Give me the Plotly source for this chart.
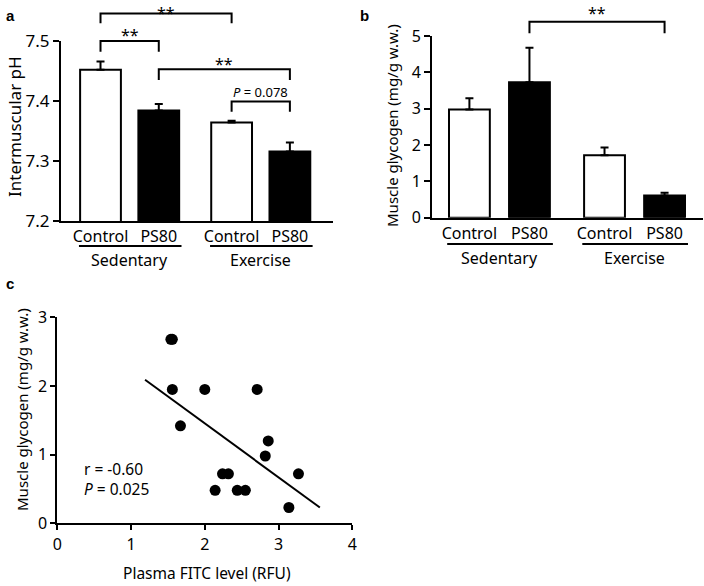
import plotly.graph_objects as go

W, H = 704, 586
FONT = "Noto Sans"

# ---------------- data ----------------
categories = ["Control", "PS80", "Control", "PS80"]
groups = ["Sedentary", "Sedentary", "Exercise", "Exercise"]
bar_fill = ["white", "black", "white", "black"]

ph_mean = [7.452, 7.384, 7.364, 7.316]
ph_err = [0.014, 0.011, 0.003, 0.015]
ph_ticks = [7.2, 7.3, 7.4, 7.5]

gly_mean = [2.98, 3.73, 1.72, 0.61]
gly_err = [0.31, 0.95, 0.21, 0.08]
gly_ticks = [0, 1, 2, 3, 4, 5]

fitc_level = [1.54, 1.56, 1.56, 1.67, 2.00, 2.14, 2.24, 2.32, 2.44, 2.55, 2.71, 2.82, 2.86, 3.14, 3.27]
fitc_glycogen = [2.68, 2.68, 1.95, 1.42, 1.95, 0.48, 0.72, 0.72, 0.48, 0.48, 1.95, 0.98, 1.20, 0.23, 0.72]
fit_x = [1.19, 3.56]
fit_y = [2.09, 0.23]
c_xticks = [0, 1, 2, 3, 4]
c_yticks = [0, 1, 2, 3]


def positions(grps, gap=0.25):
    pos, g, prev = [], 0, None
    for k, grp in enumerate(grps):
        if prev is not None and grp != prev:
            g += 1
        pos.append(k + gap * g)
        prev = grp
    return pos


pos = positions(groups)


def xdom(p0, p1):
    return [p0 / W, p1 / W]


def ydom(top, bottom):
    return [1 - bottom / H, 1 - top / H]


dom = {
    "a": (xdom(61, 333), ydom(41, 221), [-0.678, 3.99], [7.2, 7.5]),
    "b": (xdom(432, 703), ydom(36, 217.7), [-0.623, 3.89], [0, 5]),
    "c": (xdom(57.3, 352.3), ydom(317.3, 523.3), [0, 4], [0, 3]),
}


def ypaper(panel, v):
    _, yd, _, yr = dom[panel]
    return yd[0] + (v - yr[0]) / (yr[1] - yr[0]) * (yd[1] - yd[0])


fig = go.Figure()

fig.add_trace(go.Bar(
    x=pos, y=ph_mean, width=0.70, xaxis="x", yaxis="y",
    marker=dict(color=bar_fill, line=dict(color="black", width=2)),
    error_y=dict(type="data", symmetric=False, array=ph_err, arrayminus=[0] * 4,
                 color="black", thickness=2, width=4),
    showlegend=False))

fig.add_trace(go.Bar(
    x=pos, y=gly_mean, width=0.68, xaxis="x2", yaxis="y2",
    marker=dict(color=bar_fill, line=dict(color="black", width=2)),
    error_y=dict(type="data", symmetric=False, array=gly_err, arrayminus=[0] * 4,
                 color="black", thickness=2, width=4),
    showlegend=False))

fig.add_trace(go.Scatter(
    x=fitc_level, y=fitc_glycogen, mode="markers", xaxis="x3", yaxis="y3",
    marker=dict(color="black", size=11), cliponaxis=False, showlegend=False))
fig.add_trace(go.Scatter(
    x=fit_x, y=fit_y, mode="lines", xaxis="x3", yaxis="y3",
    line=dict(color="black", width=2), showlegend=False))

axis_common = dict(showline=True, linecolor="black", linewidth=2, showgrid=False,
                   zeroline=False, tickcolor="black", tickwidth=2, automargin=False,
                   tickfont=dict(family=FONT, size=16, color="black"))

fig.update_layout(
    width=W, height=H, autosize=False, margin=dict(l=0, r=0, t=0, b=0, pad=0, autoexpand=False),
    paper_bgcolor="white", plot_bgcolor="white",
    font=dict(family=FONT, color="black"),
    xaxis=dict(domain=dom["a"][0], range=dom["a"][2], tickvals=pos, ticktext=categories,
               ticks="", anchor="y", **axis_common),
    yaxis=dict(domain=dom["a"][1], range=dom["a"][3], tickvals=ph_ticks,
               ticktext=[f"{v:.1f}" for v in ph_ticks], ticks="outside", ticklen=6,
               anchor="x", **{**axis_common, "tickfont": dict(family=FONT, size=17, color="black")}),
    xaxis2=dict(domain=dom["b"][0], range=dom["b"][2], tickvals=pos, ticktext=categories,
                ticks="", anchor="y2", **axis_common),
    yaxis2=dict(domain=dom["b"][1], range=dom["b"][3], tickvals=gly_ticks,
                ticks="outside", ticklen=6, anchor="x2", **axis_common),
    xaxis3=dict(domain=dom["c"][0], range=dom["c"][2], tickvals=c_xticks,
                ticks="outside", ticklen=5, anchor="y3", **axis_common),
    yaxis3=dict(domain=dom["c"][1], range=dom["c"][3], tickvals=c_yticks,
                ticks="outside", ticklen=5, anchor="x3", **axis_common),
)

shapes = []
annots = []


def add_groups(xref, y_line_px, y_text_px):
    for grp in ["Sedentary", "Exercise"]:
        idx = [i for i, g in enumerate(groups) if g == grp]
        x0, x1 = pos[idx[0]] - 0.37, pos[idx[-1]] + 0.39
        shapes.append(dict(type="line", xref=xref, yref="paper", x0=x0, x1=x1,
                           y0=1 - y_line_px / H, y1=1 - y_line_px / H,
                           line=dict(color="black", width=2)))
        annots.append(dict(xref=xref, yref="paper", x=(pos[idx[0]] + pos[idx[-1]]) / 2,
                           y=1 - y_text_px / H, text=grp, showarrow=False,
                           font=dict(family=FONT, size=16, color="black"),
                           xanchor="center", yanchor="middle"))


add_groups("x", 246, 260)
add_groups("x2", 244, 258)


def bracket(xref, panel, i0, i1, v_top, v_leg, label, v_text, size=16, top_edge=False):
    x0, x1 = pos[i0], pos[i1]
    yt, yl = ypaper(panel, v_top), ypaper(panel, v_leg)
    shapes.append(dict(type="path", xref=xref, yref="paper",
                       path=f"M {x0},{yl} L {x0},{yt} L {x1},{yt} L {x1},{yl}",
                       line=dict(color="black", width=2)))
    if top_edge:
        annots.append(dict(xref=xref, yref="paper", x=(x0 + x1) / 2, y=1.0,
                           text=label, showarrow=False, xanchor="center", yanchor="top",
                           font=dict(family=FONT, size=size, color="black")))
    else:
        annots.append(dict(xref=xref, yref="paper", x=(x0 + x1) / 2, y=ypaper(panel, v_text),
                           text=label, showarrow=False, xanchor="center", yanchor="middle",
                           font=dict(family=FONT, size=size, color="black")))


bracket("x", "a", 0, 2, 7.546, 7.5295, "**", None, top_edge=True)
bracket("x", "a", 0, 1, 7.500, 7.482, "**", 7.510)
bracket("x", "a", 1, 3, 7.4528, 7.435, "**", 7.462)
bracket("x", "a", 2, 3, 7.399, 7.382, "<i>P</i> = 0.078", 7.415, size=13)
bracket("x2", "b", 1, 3, 5.395, 5.075, "**", 5.62)

annots.append(dict(xref="x3", yref="y3", x=0.335, y=0.64,
                   text="r = -0.60<br><i>P</i> = 0.025", showarrow=False, align="left",
                   xanchor="left", yanchor="middle", font=dict(family=FONT, size=15.5, color="black")))

annots.append(dict(xref="paper", yref="paper", x=14 / W, y=1 - 127 / H, text="Intermuscular pH",
                   textangle=-90, showarrow=False, xanchor="center", yanchor="middle",
                   font=dict(family=FONT, size=17, color="black")))
annots.append(dict(xref="paper", yref="paper", x=392 / W, y=1 - 125 / H, text="Muscle glycogen (mg/g w.w.)",
                   textangle=-90, showarrow=False, xanchor="center", yanchor="middle",
                   font=dict(family=FONT, size=15, color="black")))
annots.append(dict(xref="paper", yref="paper", x=22 / W, y=1 - 410 / H, text="Muscle glycogen (mg/g w.w.)",
                   textangle=-90, showarrow=False, xanchor="center", yanchor="middle",
                   font=dict(family=FONT, size=15, color="black")))
annots.append(dict(xref="paper", yref="paper", x=207 / W, y=0.0, text="Plasma FITC level (RFU)",
                   showarrow=False, xanchor="center", yanchor="bottom",
                   font=dict(family=FONT, size=15.5, color="black")))

for letter, px, py in [("a", 10, 15), ("b", 364, 15), ("c", 10, 283)]:
    annots.append(dict(xref="paper", yref="paper", x=px / W, y=1 - py / H, text=f"<b>{letter}</b>",
                       showarrow=False, xanchor="center", yanchor="middle",
                       font=dict(family="Liberation Sans", size=15, color="black")))

fig.update_layout(shapes=shapes, annotations=annots)
fig.write_html("out.html", config={"displayModeBar": False},
               post_script="document.body.style.margin='0px';document.body.style.overflow='hidden';")
